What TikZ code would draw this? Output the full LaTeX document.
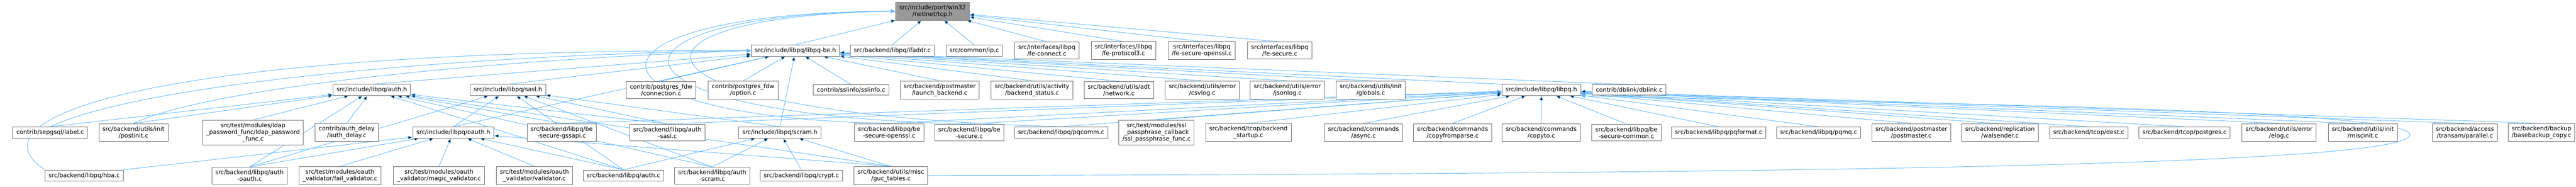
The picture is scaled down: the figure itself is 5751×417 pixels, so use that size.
\documentclass[tikz,border=0pt]{standalone}
\usepackage{fontspec}
\usepackage{xcolor}
\newfontfamily\dxfont{DejaVu Sans}
\usetikzlibrary{positioning,arrows.meta,backgrounds}
\definecolor{edgeblue}{HTML}{63B8FF}
\definecolor{boxgray}{HTML}{6E6E6E}
\definecolor{rootgray}{HTML}{999999}

\begin{document}
\begin{tikzpicture}[x=0.75pt, y=-0.75pt,
    file/.style={draw=boxgray, fill=white, line width=0.8pt, align=center,
                 inner xsep=6pt, inner ysep=4.5pt, font=\dxfont\fontsize{10}{11.25}\selectfont},
    root/.style={file, fill=rootgray},
    dep/.style={draw=edgeblue, line width=0.8pt, -{Triangle[length=7.5pt, width=6pt]}}]
   \useasboundingbox (0,0) rectangle (5751,417);

   % level 0
   \node[root] (tcp) at (2082,25) {src/include/port/win32\\/netinet/tcp.h};

   % level 1
   \node[file] (libpqbe)    at (1776,113) {src/include/libpq/libpq-be.h};
   \node[file] (ifaddr)     at (1992,113) {src/backend/libpq/ifaddr.c};
   \node[file] (ip)         at (2175,113) {src/common/ip.c};
   \node[file] (feconnect)  at (2337,113) {src/interfaces/libpq\\/fe-connect.c};
   \node[file] (feprotocol) at (2508,113) {src/interfaces/libpq\\/fe-protocol3.c};
   \node[file] (fesslopen)  at (2683,113) {src/interfaces/libpq\\/fe-secure-openssl.c};
   \node[file] (fesecure)   at (2857,113) {src/interfaces/libpq\\/fe-secure.c};

   % level 2
   \node[file] (auth)          at (830,201)  {src/include/libpq/auth.h};
   \node[file] (sasl)          at (1134,201) {src/include/libpq/sasl.h};
   \node[file] (connection)    at (1476,201) {contrib/postgres\_fdw\\/connection.c};
   \node[file] (option)        at (1659,201) {contrib/postgres\_fdw\\/option.c};
   \node[file] (sslinfo)       at (1900,201) {contrib/sslinfo/sslinfo.c};
   \node[file] (launchbackend) at (2098,201) {src/backend/postmaster\\/launch\_backend.c};
   \node[file] (backendstatus) at (2304,201) {src/backend/utils/activity\\/backend\_status.c};
   \node[file] (network)       at (2498,201) {src/backend/utils/adt\\/network.c};
   \node[file] (csvlog)        at (2684,201) {src/backend/utils/error\\/csvlog.c};
   \node[file] (jsonlog)       at (2874,201) {src/backend/utils/error\\/jsonlog.c};
   \node[file] (globals)       at (3060,201) {src/backend/utils/init\\/globals.c};
   \node[file] (libpqh)        at (3441,201) {src/include/libpq/libpq.h};
   \node[file] (dblink)        at (3637,201) {contrib/dblink/dblink.c};

   % level 3
   \node[file] (label)          at (112,296)  {contrib/sepgsql/label.c};
   \node[file] (postinit)       at (298,296)  {src/backend/utils/init\\/postinit.c};
   \node[file] (ldap)           at (565,296)  {src/test/modules/ldap\\\_password\_func/ldap\_password\\\_func.c};
   \node[file] (authdelay)      at (774,296)  {contrib/auth\_delay\\/auth\_delay.c};
   \node[file] (oauth)          at (1012,296) {src/include/libpq/oauth.h};
   \node[file] (gssapi)         at (1254,296) {src/backend/libpq/be\\-secure-gssapi.c};
   \node[file] (authsasl)       at (1490,296) {src/backend/libpq/auth\\-sasl.c};
   \node[file] (scram)          at (1741,296) {src/include/libpq/scram.h};
   \node[file] (besslopen)      at (1985,296) {src/backend/libpq/be\\-secure-openssl.c};
   \node[file] (besecure)       at (2164,296) {src/backend/libpq/be\\-secure.c};
   \node[file] (pqcomm)         at (2369,296) {src/backend/libpq/pqcomm.c};
   \node[file] (sslpass)        at (2582,296) {src/test/modules/ssl\\\_passphrase\_callback\\/ssl\_passphrase\_func.c};
   \node[file] (backendstartup) at (2787,296) {src/backend/tcop/backend\\\_startup.c};
   \node[file] (async)          at (3044,296) {src/backend/commands\\/async.c};
   \node[file] (copyfromparse)  at (3243,296) {src/backend/commands\\/copyfromparse.c};
   \node[file] (copyto)         at (3441,296) {src/backend/commands\\/copyto.c};
   \node[file] (besecurecommon) at (3631,296) {src/backend/libpq/be\\-secure-common.c};
   \node[file] (pqformat)       at (3837,296) {src/backend/libpq/pqformat.c};
   \node[file] (pqmq)           at (4060,296) {src/backend/libpq/pqmq.c};
   \node[file] (postmaster)     at (4267,296) {src/backend/postmaster\\/postmaster.c};
   \node[file] (walsender)      at (4465,296) {src/backend/replication\\/walsender.c};
   \node[file] (dest)           at (4663,296) {src/backend/tcop/dest.c};
   \node[file] (postgres)       at (4877,296) {src/backend/tcop/postgres.c};
   \node[file] (elog)           at (5088,296) {src/backend/utils/error\\/elog.c};
   \node[file] (miscinit)       at (5275,296) {src/backend/utils/init\\/miscinit.c};
   \node[file] (parallel)       at (5503,296) {src/backend/access\\/transam/parallel.c};
   \node[file] (basebackup)     at (5674,296) {src/backend/backup\\/basebackup\_copy.c};

   % level 4
   \node[file] (hba)       at (188,392)  {src/backend/libpq/hba.c};
   \node[file] (authoauth) at (557,392)  {src/backend/libpq/auth\\-oauth.c};
   \node[file] (failval)   at (759,392)  {src/test/modules/oauth\\\_validator/fail\_validator.c};
   \node[file] (magicval)  at (980,392)  {src/test/modules/oauth\\\_validator/magic\_validator.c};
   \node[file] (validator) at (1193,392) {src/test/modules/oauth\\\_validator/validator.c};
   \node[file] (authc)     at (1392,392) {src/backend/libpq/auth.c};
   \node[file] (authscram) at (1590,392) {src/backend/libpq/auth\\-scram.c};
   \node[file] (crypt)     at (1789,392) {src/backend/libpq/crypt.c};
   \node[file] (guctables) at (1989,392) {src/backend/utils/misc\\/guc\_tables.c};

   \begin{scope}[on background layer]
   \path[dep]
    (libpqbe.north) edge (tcp)
    (ifaddr.north) edge (tcp)
    (ip.north) edge (tcp)
    (feconnect.north) edge (tcp)
    (feprotocol.north) edge (tcp)
    (fesslopen.north) edge (tcp)
    (fesecure.north) edge (tcp)
    (auth.north) edge (libpqbe)
    (sasl.north) edge (libpqbe)
    (connection.north) edge (libpqbe)
    (option.north) edge (libpqbe)
    (sslinfo.north) edge (libpqbe)
    (launchbackend.north) edge (libpqbe)
    (backendstatus.north) edge (libpqbe)
    (network.north) edge (libpqbe)
    (csvlog.north) edge (libpqbe)
    (jsonlog.north) edge (libpqbe)
    (globals.north) edge (libpqbe)
    (libpqh.north west) edge (libpqbe)
    (dblink.north) edge (libpqbe)
    (label.north) edge (auth)
    (postinit.north) edge (auth)
    (ldap.north) edge (auth)
    (authdelay.north) edge (auth)
    (oauth.north) edge (libpqbe) edge (sasl)
    (gssapi.north) edge (auth) edge (libpqh)
    (authsasl.north) edge (auth) edge (sasl) edge (libpqh)
    (scram.north) edge (libpqbe) edge (sasl)
    (besslopen.north) edge (libpqh)
    (besecure.north) edge (libpqh)
    (pqcomm.north) edge (libpqh)
    (sslpass.north) edge (libpqh)
    (backendstartup.north) edge (libpqh)
    (async.north) edge (libpqh)
    (copyfromparse.north) edge (libpqh)
    (copyto.north) edge (libpqh)
    (besecurecommon.north) edge (libpqh)
    (pqformat.north) edge (libpqh)
    (pqmq.north) edge (libpqh)
    (postmaster.north) edge (libpqh)
    (walsender.north) edge (libpqh)
    (dest.north) edge (libpqh)
    (postgres.north) edge (libpqh)
    (elog.north) edge (libpqh)
    (miscinit.north) edge (libpqh)
    (parallel.north) edge (libpqh)
    (basebackup.north) edge (libpqh)
    (hba.north east) edge (oauth)
    (authoauth.north) edge (auth) edge (oauth) edge (sasl)
    (failval.north) edge (oauth)
    (magicval.north) edge (oauth)
    (validator.north) edge (oauth)
    (authc.north) edge (auth) edge (oauth) edge (sasl) edge (scram)
    (authscram.north) edge (auth) edge (sasl) edge (scram)
    (crypt.north) edge (scram)
    (guctables.north) edge (auth) edge (oauth) edge (scram);

   % long ones routed round the other boxes
   \draw[dep] (label.north) .. controls (330,180) and (1100,120) .. (libpqbe.west);
   \draw[dep] (postinit.north) .. controls (480,190) and (1150,130) .. (libpqbe.west);
   \draw[dep] (hba.north west) .. controls (-80,260) and (350,110) .. (libpqbe.west);
   \draw[dep] (besslopen.north) .. controls (1260,262) and (1260,28) .. (tcp.west);
   \draw[dep] (besecure.north) .. controls (1300,258) and (1300,32) .. (tcp.west);
   \draw[dep] (pqcomm.north) .. controls (1340,254) and (1340,36) .. (tcp.west);
   \draw[dep] (guctables.east) .. controls (4000,388) and (5390,370) .. (5380,300)
              .. controls (5370,240) and (4100,228) .. (libpqh.south east);
   \end{scope}
\end{tikzpicture}
\end{document}
